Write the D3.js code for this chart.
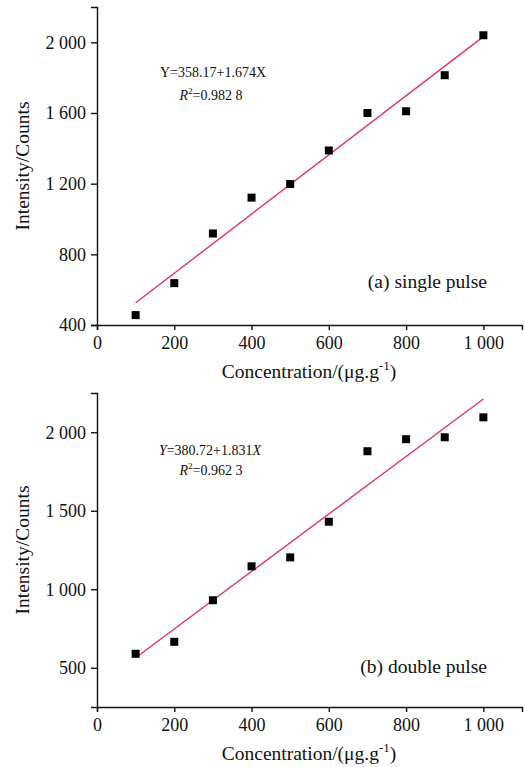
<!DOCTYPE html>
<meta charset="utf-8">
<html>
<head>
  <style>
    body { margin: 0; background: #fff; }
    svg { width: 525px; height: 767px; display: block; }
    text { font-family: 'Liberation Serif', 'Times New Roman', serif; fill: #111; }
    .axis path, .axis line { stroke: #111; stroke-width: 1.4; }
    .axis text { font-size: 18px; }
    .axislabel { font-size: 19.5px; text-anchor: middle; }
    .fit { fill: none; stroke: #e03563; stroke-width: 1.4; }
    .pt { fill: #000; }
    .eq { font-size: 14px; text-anchor: middle; }
    .tag { font-size: 19.5px; text-anchor: end; }
  </style>
  <script src="https://d3js.org/d3.v7.min.js"></script>
</head>
<body>
  <svg></svg>
  <script>
    // concentration (µg/g) shared by both panels
    var concentration = [100, 200, 300, 400, 500, 600, 700, 800, 900, 1000];
    var singleIntensity = [456, 637, 918, 1121, 1198, 1388, 1600, 1610, 1814, 2040];
    var doubleIntensity = [589, 665, 930, 1146, 1203, 1430, 1879, 1956, 1968, 2095];

    var xTicks = [0, 200, 400, 600, 800, 1000];
    var singleTicks = [400, 800, 1200, 1600, 2000];
    var doubleTicks = [500, 1000, 1500, 2000];

    // regression coefficients
    var intercepts = [358.17, 380.72];
    var slopes = [1.674, 1.831];
    var eqLabels = ["Y=358.17+1.674X", "Y=380.72+1.831X"];
    var r2Labels = ["0.982 8", "0.962 3"];
    var tags = ["(a) single pulse", "(b) double pulse"];

    var svg = d3.select("svg");

    // thousands separated by a space, like the figure
    var fmt = function(v) { return d3.format(",")(v).replace(",", " "); };

    function panel(i, values, yDomain, yTicks, top, bottom) {
      var left = 97, right = 522;
      var x = d3.scaleLinear().domain([0, 1100]).range([left, right]);
      var y = d3.scaleLinear().domain(yDomain).range([bottom, top]);
      var g = svg.append("g");

      g.append("g").attr("class", "axis")
        .attr("transform", "translate(0," + bottom + ")")
        .call(d3.axisBottom(x).tickValues(xTicks).tickFormat(fmt).tickSizeOuter(0).tickSize(5).tickPadding(6));

      g.append("g").attr("class", "axis")
        .attr("transform", "translate(" + left + ",0)")
        .call(d3.axisLeft(y).tickValues(yTicks).tickFormat(fmt).tickSizeOuter(0).tickSize(6).tickPadding(5));

      g.selectAll(".axis text").attr("fill", "#111");

      // axis titles
      var xt = g.append("text").attr("class", "axislabel")
        .attr("x", 309).attr("y", bottom + 53)
        .text("Concentration/(\u03bcg.g");
      xt.append("tspan").attr("dy", -8).attr("font-size", 13).text("-1");
      xt.append("tspan").attr("dy", 8).text(")");

      g.append("text").attr("class", "axislabel")
        .attr("transform", "translate(29," + ((top + bottom) / 2) + ") rotate(-90)")
        .text("Intensity/Counts");

      // fitted line
      var fit = [100, 1000].map(function(c) { return [c, intercepts[i] + slopes[i] * c]; });
      g.append("path").attr("class", "fit")
        .attr("d", d3.line().x(function(d) { return x(d[0]); }).y(function(d) { return y(d[1]); })(fit));

      // measured points
      var s = 8;
      g.selectAll(".pt").data(values).enter().append("rect")
        .attr("class", "pt")
        .attr("x", function(d, j) { return x(concentration[j]) - s / 2; })
        .attr("y", function(d) { return y(d) - s / 2; })
        .attr("width", s).attr("height", s);

      // equation
      var eq = g.append("text").attr("class", "eq").attr("x", i == 0 ? 213 : 210).attr("y", top + (i == 0 ? 70 : 62));
      if (i == 0) {
        eq.text(eqLabels[i]);
      } else {
        eq.append("tspan").attr("font-style", "italic").text("Y");
        eq.append("tspan").text(eqLabels[i].slice(1, -1));
        eq.append("tspan").attr("font-style", "italic").text("X");
      }
      var r2 = g.append("text").attr("class", "eq").attr("x", 211).attr("y", top + (i == 0 ? 93 : 82));
      r2.append("tspan").attr("font-style", "italic").text("R");
      r2.append("tspan").attr("dy", -6).attr("font-size", 9).text("2");
      r2.append("tspan").attr("dy", 6).text("=" + r2Labels[i]);

      g.append("text").attr("class", "tag")
        .attr("x", 487).attr("y", bottom - (i == 0 ? 37 : 34))
        .text(tags[i]);
    }

    panel(0, singleIntensity, [400, 2200], singleTicks, 7, 325);
    panel(1, doubleIntensity, [250, 2250], doubleTicks, 393, 707);
  </script>
</body>
</html>
